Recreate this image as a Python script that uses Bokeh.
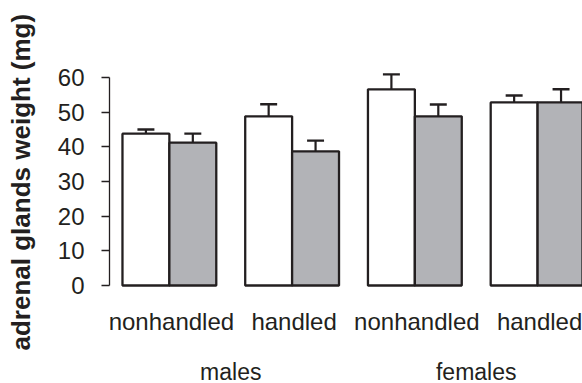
from bokeh.plotting import figure
from bokeh.models import FixedTicker, Range1d, Title
from bokeh.core.properties import value
from bokeh.embed import file_html
from bokeh.resources import INLINE

# ---- data ----
groups = ["nonhandled", "handled", "nonhandled", "handled"]
sexes = ["males", "females"]
white_values = [43.8, 48.8, 56.6, 52.8]
white_err = [1.2, 3.5, 4.3, 2.0]
gray_values = [41.2, 38.7, 48.8, 52.8]
gray_err = [2.6, 3.1, 3.4, 3.8]
y_ticks = [0, 10, 20, 30, 40, 50, 60]
y_title = "adrenal glands weight (mg)"

INK = "#231f20"
GRAY = "#b2b3b7"
FONT = "Liberation Sans"

PX_X = 123.0      # pixels per group unit
PX_Y = 3.4667     # pixels per mg
BW = 47 / PX_X    # bar width in group units
CAP = 17 / PX_X

p = figure(width=582, height=383, output_backend="svg", toolbar_location=None,
           x_axis_location=None,
           x_range=Range1d(-60 / PX_X, 3 + 45 / PX_X),
           y_range=Range1d(-98 / PX_Y, 213 / PX_Y),
           min_border_left=107, min_border_right=0, min_border_top=72,
           min_border_bottom=0)
p.outline_line_color = None
p.grid.visible = False
p.background_fill_color = "white"
p.border_fill_color = "white"

idx = list(range(len(groups)))
wx = [i - BW / 2 for i in idx]
gx = [i + BW / 2 for i in idx]

# error bars (drawn first so bar outline sits on top)
for xs, vals, errs in ((wx, white_values, white_err), (gx, gray_values, gray_err)):
    tops = [v + e for v, e in zip(vals, errs)]
    p.segment(x0=xs, y0=vals, x1=xs, y1=tops, line_color=INK, line_width=2.2)
    p.segment(x0=[x - CAP / 2 for x in xs], y0=tops, x1=[x + CAP / 2 for x in xs], y1=tops,
              line_color=INK, line_width=2.4)

p.vbar(x=wx, top=white_values, bottom=0, width=BW, fill_color="white",
       line_color=INK, line_width=2.3)
p.vbar(x=gx, top=gray_values, bottom=0, width=BW, fill_color=GRAY,
       line_color=INK, line_width=2.3)

# category labels under each pair of bars, and sex labels under pairs of groups
p.text(x=[i + 2 / PX_X for i in idx], y=[-36 / PX_Y] * len(idx), text=groups,
       text_align="center", text_baseline="middle", text_font=value(FONT),
       text_font_size="24px", text_color=INK)
sex_x = [(idx[2 * k] + idx[2 * k + 1]) / 2 for k in range(len(sexes))]
p.text(x=sex_x, y=[-86 / PX_Y] * len(sexes), text=sexes, text_align="center",
       text_baseline="middle", text_font=value(FONT), text_font_size="23px",
       text_color=INK)

# y axis
ya = p.yaxis[0]
ya.ticker = FixedTicker(ticks=y_ticks)
ya.bounds = (0, 60)
ya.minor_tick_line_color = None
ya.major_tick_in = 0
ya.major_tick_out = 8
ya.axis_line_color = INK
ya.axis_line_width = 1.3
ya.major_tick_line_color = INK
ya.major_tick_line_width = 1.3
ya.major_label_text_font = FONT
ya.major_label_text_font_size = "24px"
ya.major_label_text_color = INK
ya.major_label_standoff = 17
# tiny blank axis label: only adds a little spacing before the title
ya.axis_label = " "
ya.axis_label_text_font_size = "1px"
ya.axis_label_standoff = 8

# y title as a left-side title, shifted along the axis
p.add_layout(Title(text=y_title, align="left", vertical_align="top", offset=33,
                   standoff=10, text_font=FONT, text_font_style="bold",
                   text_font_size="26px", text_color=INK), "left")

open("out.html", "w").write(file_html(p, INLINE))
